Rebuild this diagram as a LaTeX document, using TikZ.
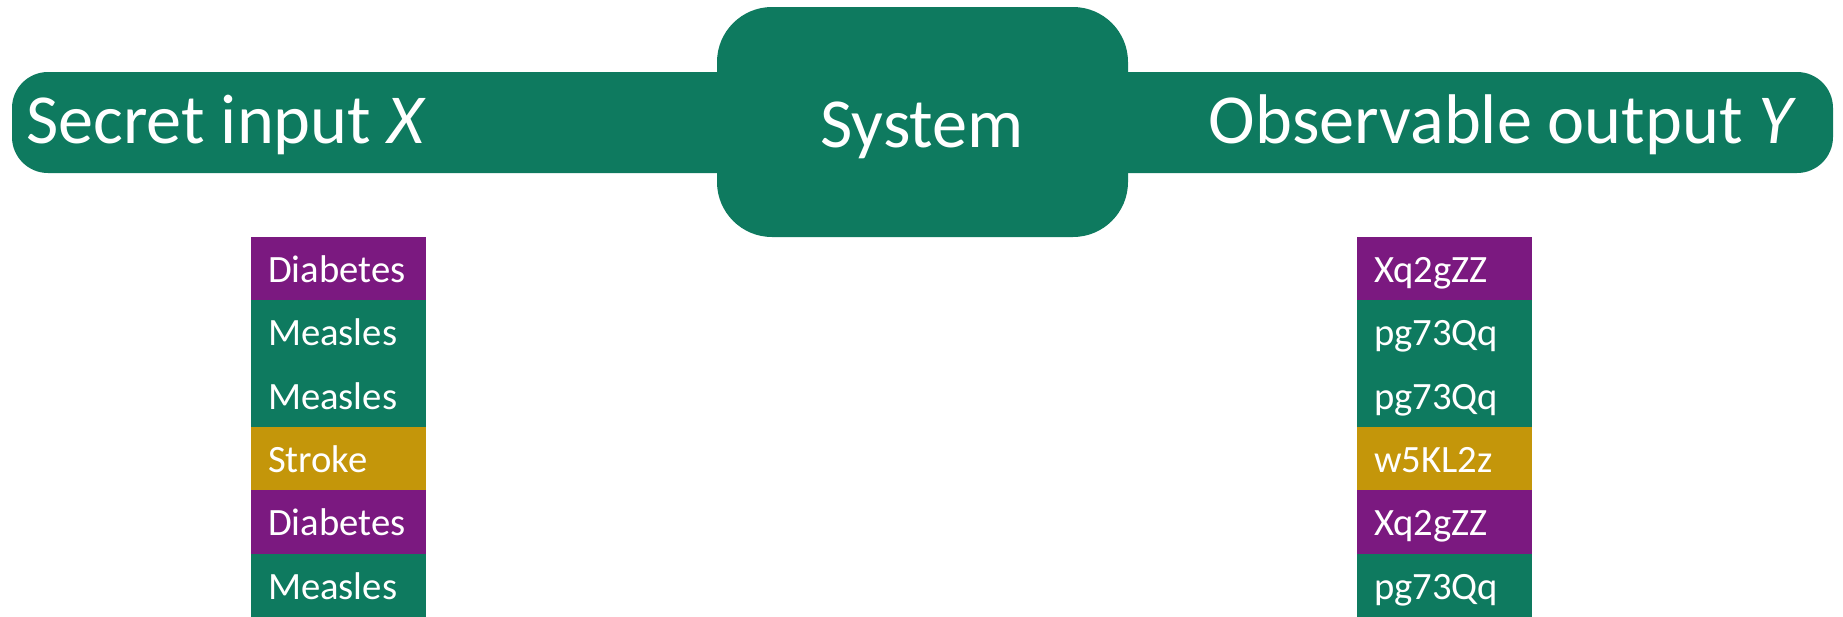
\documentclass[tikz,border=0pt]{standalone}
\usepackage{fontspec}
\setmainfont{Carlito}
\usepackage{tikz}
\usetikzlibrary{positioning}
\definecolor{sysgreen}{RGB}{14,122,95}
\definecolor{dpurple}{RGB}{123,25,128}
\definecolor{sgold}{RGB}{196,150,10}

\begin{document}
\begin{tikzpicture}[x=0.02cm, y=-0.02cm,
    bigtext/.style={text=white, font=\fontsize{40}{48}\selectfont, inner sep=0pt},
    cell/.style={text=white, font=\fontsize{22}{26}\selectfont, minimum height=1.266cm,
        text width=2.832cm, inner xsep=0.334cm, inner ysep=0pt, align=left,
        text height=21.3pt, text depth=5.5pt, anchor=north west}]
    \useasboundingbox (0,0) rectangle (1843,616);

    % bars and system box
    \fill[sysgreen, rounded corners=0.72cm] (12,72) rectangle (800,173);
    \fill[sysgreen, rounded corners=0.72cm] (1050,72) rectangle (1833,173);
    \fill[sysgreen, rounded corners=1.1cm] (717,7) rectangle (1128,237);

    \node[bigtext, anchor=base west] (secret) at (26,143) {Secret input \textit{X}};
    \node[bigtext, anchor=base] (system) at (922,147) {System};
    \node[bigtext, anchor=base east] (observ) at (1797,143) {Observable output \textit{Y}};

    % input column
    \foreach \lab/\col [count=\i] in {Diabetes/dpurple, Measles/sysgreen, Measles/sysgreen,
            Stroke/sgold, Diabetes/dpurple, Measles/sysgreen}
        \node[cell, fill=\col] (in\i) at (251, {236.7+(\i-1)*63.3}) {\lab};

    % output column
    \foreach \lab/\col [count=\i] in {Xq2gZZ/dpurple, pg73Qq/sysgreen, pg73Qq/sysgreen,
            w5KL2z/sgold, Xq2gZZ/dpurple, pg73Qq/sysgreen}
        \node[cell, fill=\col] (out\i) at (1357, {236.7+(\i-1)*63.3}) {\lab};
\end{tikzpicture}
\end{document}
